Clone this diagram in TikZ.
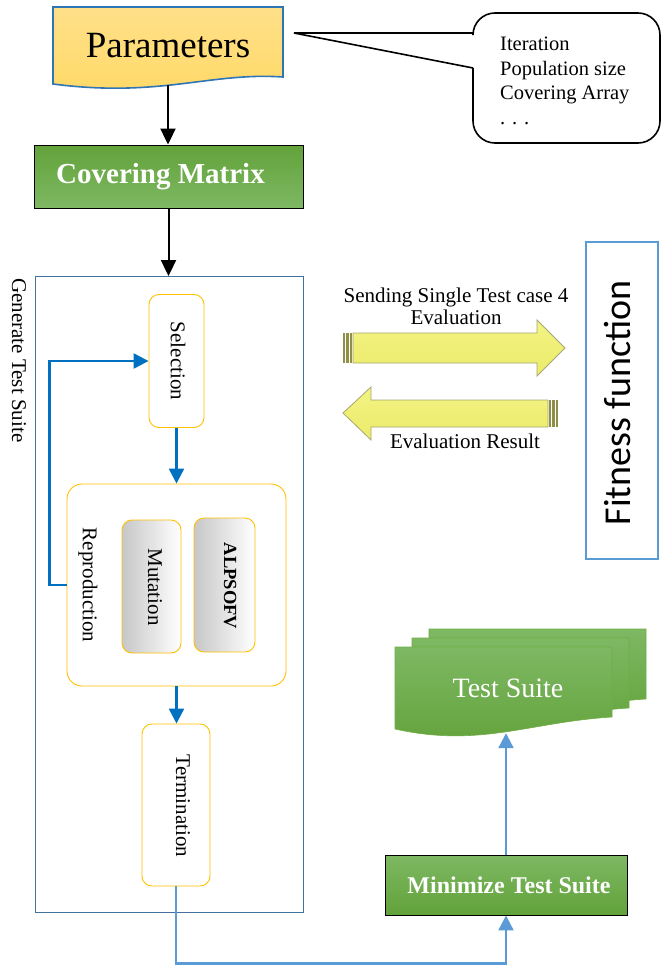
\documentclass[tikz,border=0pt]{standalone}
\usepackage{fontspec}
\setmainfont{Liberation Serif}
\newfontfamily\calib{Carlito}
\usetikzlibrary{arrows.meta}

\definecolor{paramfill}{HTML}{FFD966}
\definecolor{paramtop}{HTML}{FFE08A}
\definecolor{parambord}{HTML}{2E75B6}
\definecolor{gdark}{HTML}{62A23A}
\definecolor{glight}{HTML}{7EB863}
\definecolor{gedge}{HTML}{6FAE46}
\definecolor{flowblue}{HTML}{0070C0}
\definecolor{lineblue}{HTML}{5B9BD5}
\definecolor{frameblue}{HTML}{41719C}
\definecolor{goldline}{HTML}{FFC000}
\definecolor{yelA}{HTML}{F3F384}
\definecolor{yelB}{HTML}{FFFFE6}
\definecolor{yelC}{HTML}{EBEB6A}
\definecolor{yelEdge}{HTML}{A6A672}
\definecolor{stripecol}{HTML}{8F8F48}

\tikzset{
  blackarrow/.style={line width=2, -{Triangle[length=16pt,width=15pt]}},
  flowarrow/.style={draw=flowblue, line width=2.4, -{Triangle[length=15pt,width=15pt]}},
  lightarrow/.style={draw=lineblue, line width=2.3, -{Triangle[length=15pt,width=15pt]}},
  stagebox/.style={draw=goldline, line width=0.9, rounded corners=10, fill=white, inner sep=0},
  opbox/.style={draw=goldline, line width=0.9, rounded corners=10, inner sep=0,
    left color=black!22, right color=white},
  vlabel/.style={rotate=-90, inner sep=0, font=\fontsize{21}{24}\selectfont},
  greenbox/.style={draw=black, line width=0.9, inner sep=0, text=white},
  docgreen/.style={top color=glight, bottom color=gdark, draw=gedge, line width=0.6},
  yarrow/.style={top color=yelA, middle color=yelB, bottom color=yelC, draw=yelEdge, line width=0.8},
  stripe/.style={fill=stripecol},
}

\begin{document}
\begin{tikzpicture}[x=1pt,y=-1pt]
\useasboundingbox (0,0) rectangle (665,966);

% ---------- Parameters (document shape) ----------
\path[top color=paramtop, bottom color=paramfill, draw=parambord, line width=1.6]
  (53,7) -- (283,7) -- (283,77) .. controls (210,72) and (160,98) .. (53,84) -- cycle;
\node[inner sep=0, minimum width=230, minimum height=78,
      font=\fontsize{37}{40}\selectfont] (params) at (168,46) {Parameters};

% ---------- Callout with the parameters ----------
\draw[line width=1.6, rounded corners=22]
  (473,33) -- (473,13) -- (660,13) -- (660,143) -- (473,143) -- (473,68);
\draw[line width=1.6] (473,68) -- (294,33) -- (473,33);
\node[anchor=north west, inner sep=0, align=left,
      font=\fontsize{20.5}{24.5}\selectfont] (plist) at (500,37)
  {Iteration\\Population size\\Covering Array\\. . .};

% ---------- Covering Matrix ----------
\node[greenbox, top color=gdark, bottom color=glight, minimum width=269, minimum height=63,
      font=\bfseries\fontsize{29}{32}\selectfont] (cover) at (168.5,176.5) {Covering Matrix\hspace*{16pt}};

\draw[blackarrow] (params.south) -- (params.south |- cover.north);

% ---------- Generate Test Suite frame ----------
\node[draw=frameblue, line width=0.9, minimum width=268, minimum height=636, inner sep=0]
  (gen) at (169,594.5) {};
\node[vlabel, anchor=west, font=\fontsize{21}{24}\selectfont] (gentxt) at (19,278) {Generate Test Suite};

\draw[blackarrow] (cover.south) -- (cover.south |- gen.north);

% ---------- Stages inside the frame ----------
\node[stagebox, minimum width=55, minimum height=133] (sel) at (176.5,361) {};
\node[vlabel] (seltxt) at (178,361) {Selection};

\node[stagebox, rounded corners=15, minimum width=219, minimum height=202] (repro) at (176.5,585) {};
\node[vlabel] (reprotxt) at (88,585) {Reproduction};

\node[opbox, minimum width=59, minimum height=133] (mut) at (151.5,586.5) {};
\node[vlabel] (muttxt) at (155,587) {Mutation};

\node[opbox, minimum width=61, minimum height=134] (alps) at (224.5,585) {};
\node[vlabel, font=\bfseries\fontsize{18.5}{22}\selectfont] (alpstxt) at (230,586) {ALPSOFV};

\node[stagebox, minimum width=68, minimum height=162] (term) at (176,805) {};
\node[vlabel] (termtxt) at (183,806) {Termination};

\draw[flowarrow] (sel.south) -- (repro.north);
\draw[flowarrow] (repro.south) -- (repro.south |- term.north);
\draw[flowarrow] (repro.west) -- ++(-17,0) |- (sel.west);

% ---------- Fitness function ----------
\node[draw=lineblue, line width=1.8, minimum width=72, minimum height=317, inner sep=0]
  (fit) at (622,400.5) {};
\node[rotate=90, inner sep=0, font=\calib\fontsize{38}{42}\selectfont] (fittxt) at (617,403) {Fitness function};

% ---------- Exchange arrows ----------
\path[yarrow] (353,333) -- (537,333) -- (537,320) -- (565,348) -- (537,376) -- (537,363) -- (353,363) -- cycle;
\fill[stripe] (343,333) rectangle (345.2,363);
\fill[stripe] (346.4,333) rectangle (348.6,363);
\fill[stripe] (349.8,333) rectangle (352,363);

\path[yarrow] (343,413) -- (371,387) -- (371,400) -- (548,400) -- (548,427) -- (371,427) -- (371,440) -- cycle;
\fill[stripe] (549,400) rectangle (551.2,427);
\fill[stripe] (552.4,400) rectangle (554.6,427);
\fill[stripe] (555.8,400) rectangle (558,427);

\node[align=center, inner sep=0, font=\fontsize{21}{22}\selectfont] (sendtxt) at (456,306)
  {Sending Single Test case 4\\Evaluation};
\node[inner sep=0, font=\fontsize{21}{22}\selectfont] (restxt) at (465,441) {Evaluation Result};

% ---------- Test Suite (stacked documents) ----------
\foreach \dx/\dy in {34/-18, 17/-9, 0/0}{
  \path[docgreen, shift={(\dx,\dy)}]
    (395,647) -- (612,647) -- (612,717) .. controls (530,722) and (480,748) .. (395,729) -- cycle;
}
\node[inner sep=0, minimum width=200, minimum height=90, text=white,
      font=\fontsize{28}{30}\selectfont] (tsuite) at (508,688) {Test Suite};

% ---------- Minimize Test Suite ----------
\node[greenbox, top color=glight, bottom color=gdark, minimum width=242, minimum height=60,
      font=\bfseries\fontsize{24}{26}\selectfont] (mini) at (506,885) {\hspace*{6pt}Minimize Test Suite};

\draw[lightarrow] (term.south) -- ++(0,77) -| (mini.south);
\draw[lightarrow] (mini.north) -- (mini.north |- tsuite.south);

\end{tikzpicture}
\end{document}
